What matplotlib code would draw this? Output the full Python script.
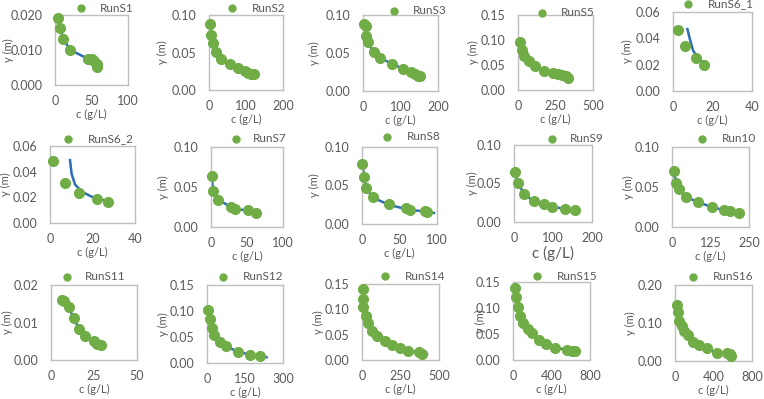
import matplotlib
matplotlib.use("Agg")
import matplotlib.pyplot as plt
from matplotlib.lines import Line2D
from matplotlib.ticker import FormatStrFormatter

plt.rcParams['font.family'] = ['Lato', 'DejaVu Sans']

GREEN = '#70AD47'
BLUE = '#2E6DB4'
GRAY = '#595959'
FRAME = '#BFBFBF'

W, H = 764, 399

# ---- data: c (g/L) vs y (m) ----
s1_c = [4.5, 7, 11, 21, 45, 50, 53, 57, 58]
s1_y = [0.0192, 0.0163, 0.0132, 0.0100, 0.0075, 0.0073, 0.0068, 0.0059, 0.0052]

s2_c = [2, 6, 11, 18, 33, 56, 78, 96, 105, 114, 121]
s2_y = [0.088, 0.073, 0.063, 0.051, 0.042, 0.035, 0.029, 0.025, 0.023, 0.022, 0.021]

s3_c = [2, 7, 9, 13, 28, 46, 78, 107, 129, 138, 147, 153]
s3_y = [0.088, 0.086, 0.072, 0.064, 0.051, 0.043, 0.036, 0.029, 0.025, 0.023, 0.020, 0.020]

s5_c = [11, 26, 37, 70, 115, 170, 231, 269, 295, 317, 335]
s5_y = [0.097, 0.080, 0.069, 0.058, 0.049, 0.039, 0.035, 0.032, 0.030, 0.028, 0.025]

s61_c = [2.6, 6.3, 11.6, 15.8]
s61_y = [0.0465, 0.034, 0.025, 0.020]
s61_fit_c = [7.3, 8.5, 10.2, 12.8, 15.8]
s61_fit_y = [0.047, 0.0396, 0.0306, 0.025, 0.021]

s62_c = [1.3, 7, 13.6, 22, 27.5]
s62_y = [0.0487, 0.031, 0.023, 0.019, 0.0166]
s62_fit_c = [9.4, 10.2, 11.8, 14.9, 19.6, 23.5, 27.5]
s62_fit_y = [0.049, 0.038, 0.030, 0.0245, 0.0205, 0.0184, 0.017]

s7_c = [1, 3, 10, 28, 34, 52, 63]
s7_y = [0.064, 0.045, 0.034, 0.025, 0.022, 0.021, 0.018]

s8_c = [0, 2, 5, 15, 36, 59, 64, 84, 87]
s8_y = [0.078, 0.061, 0.047, 0.035, 0.026, 0.021, 0.018, 0.017, 0.016]
s8_fit_c = [1, 3, 6, 15, 36, 60, 85, 96]
s8_fit_y = [0.075, 0.058, 0.046, 0.034, 0.025, 0.019, 0.016, 0.0143]

s9_c = [3, 10, 25, 50, 76, 97, 130, 156]
s9_y = [0.065, 0.051, 0.037, 0.027, 0.023, 0.020, 0.017, 0.0154]

s10_c = [5, 14, 24, 45, 84, 129, 169, 189, 219]
s10_y = [0.070, 0.055, 0.047, 0.038, 0.031, 0.025, 0.021, 0.020, 0.018]

s11_c = [6.4, 7.5, 10.3, 13.2, 16.5, 20, 24.8, 26.7, 29.3]
s11_y = [0.0160, 0.0158, 0.0141, 0.0111, 0.0082, 0.0064, 0.0052, 0.0042, 0.0040]

s12_c = [4, 10, 20, 29, 50, 76, 121, 170, 209]
s12_y = [0.102, 0.084, 0.067, 0.054, 0.040, 0.032, 0.022, 0.016, 0.014]
s12_fit_c = [4, 10, 20, 29, 50, 76, 121, 170, 209, 235]
s12_fit_y = [0.102, 0.084, 0.067, 0.054, 0.040, 0.032, 0.022, 0.016, 0.013, 0.011]

s14_c = [4, 4, 8, 26, 41, 63, 95, 150, 193, 247, 300, 370, 390]
s14_y = [0.140, 0.121, 0.105, 0.087, 0.073, 0.057, 0.047, 0.0375, 0.030, 0.0237, 0.018, 0.015, 0.0125]
s14_fit_c = [4, 8, 26, 41, 63, 95, 150, 193, 247, 300, 370, 422]
s14_fit_y = [0.140, 0.105, 0.087, 0.073, 0.057, 0.047, 0.0375, 0.030, 0.0237, 0.018, 0.015, 0.012]

s15_c = [24, 35, 52, 70, 104, 157, 200, 270, 348, 435, 563, 609, 643]
s15_y = [0.139, 0.121, 0.101, 0.085, 0.071, 0.059, 0.051, 0.038, 0.030, 0.023, 0.020, 0.017, 0.017]

s16_c = [17, 28, 42, 70, 97, 139, 191, 254, 337, 435, 539, 574, 581]
s16_y = [0.147, 0.128, 0.106, 0.0925, 0.079, 0.068, 0.051, 0.042, 0.033, 0.022, 0.020, 0.018, 0.013]

runs = [
    ('RunS1', s1_c, s1_y, None, None, [0, 50, 100], [0, 0.01, 0.02], '%.3f'),
    ('RunS2', s2_c, s2_y, None, None, [0, 100, 200], [0, 0.05, 0.10], '%.2f'),
    ('RunS3', s3_c, s3_y, None, None, [0, 100, 200], [0, 0.05, 0.10], '%.2f'),
    ('RunS5', s5_c, s5_y, None, None, [0, 250, 500], [0, 0.05, 0.10, 0.15], '%.2f'),
    ('RunS6_1', s61_c, s61_y, s61_fit_c, s61_fit_y, [0, 20, 40], [0, 0.02, 0.04, 0.06], '%.2f'),
    ('RunS6_2', s62_c, s62_y, s62_fit_c, s62_fit_y, [0, 20, 40], [0, 0.02, 0.04, 0.06], '%.2f'),
    ('RunS7', s7_c, s7_y, None, None, [0, 50, 100], [0, 0.05, 0.10], '%.2f'),
    ('RunS8', s8_c, s8_y, s8_fit_c, s8_fit_y, [0, 50, 100], [0, 0.05, 0.10], '%.2f'),
    ('RunS9', s9_c, s9_y, None, None, [0, 100, 200], [0, 0.05, 0.10], '%.2f'),
    ('Run10', s10_c, s10_y, None, None, [0, 125, 250], [0, 0.05, 0.10], '%.2f'),
    ('RunS11', s11_c, s11_y, None, None, [0, 25, 50], [0, 0.01, 0.02], '%.2f'),
    ('RunS12', s12_c, s12_y, s12_fit_c, s12_fit_y, [0, 150, 300], [0, 0.05, 0.10, 0.15], '%.2f'),
    ('RunS14', s14_c, s14_y, s14_fit_c, s14_fit_y, [0, 250, 500], [0, 0.05, 0.10, 0.15], '%.2f'),
    ('RunS15', s15_c, s15_y, None, None, [0, 400, 800], [0, 0.05, 0.10, 0.15], '%.2f'),
    ('RunS16', s16_c, s16_y, None, None, [0, 400, 800], [0, 0.10, 0.20], '%.2f'),
]

# plot boxes in pixels (left, top, right, bottom)
boxes = [
    (55, 15, 128, 85), (209, 15, 283, 90), (363, 15, 438, 91), (518, 15, 593, 90), (673, 12, 752, 91),
    (50, 146, 135, 223), (211, 147, 283, 227), (362, 147, 437, 224), (514, 145, 592, 222), (672, 147, 749, 227),
    (51, 285, 137, 360), (207, 285, 283, 363), (362, 284, 439, 360), (513, 282, 590, 360), (675, 285, 752, 361),
]
# legend marker x, text x, y (pixels)
legends = [
    (81, 100, 8), (232, 252, 8), (394, 413, 11), (542, 561, 13), (688, 708, 4),
    (68, 88, 139), (236, 253, 139), (387, 407, 137), (552, 570, 139), (702, 722, 139),
    (67, 85, 277), (223, 243, 277), (385, 405, 276), (537, 557, 276), (693, 713, 277),
]
ylab_off = [47, 47, 49, 45, 46, 45, 48, 48, 42, 44, 44, 44, 44, 33, 45]

fig = plt.figure(figsize=(W / 100, H / 100), dpi=100)


def fx(px):
    return px / W


def fy(py):
    return 1 - py / H


for i, (name, c, y, fc, fyv, xt, yt, fmt) in enumerate(runs):
    L, T, R, B = boxes[i]
    ax = fig.add_axes([fx(L), fy(B), (R - L) / W, (B - T) / H])
    if fc is None:
        fc, fyv = c, y
    ax.plot(fc, fyv, color=BLUE, lw=1.8, zorder=2)
    ax.plot(c, y, 'o', color=GREEN, ms=7, mec=GREEN, zorder=3, clip_on=False)
    ax.set_xlim(xt[0], xt[-1])
    ax.set_ylim(yt[0], yt[-1])
    ax.set_xticks(xt)
    ax.set_yticks(yt)
    ax.yaxis.set_major_formatter(FormatStrFormatter(fmt))
    ax.tick_params(length=0, labelsize=9, colors=GRAY)
    ax.tick_params(axis='x', pad=7)
    ax.tick_params(axis='y', pad=9)
    for sp in ax.spines.values():
        sp.set_color(FRAME)
        sp.set_linewidth(1)

    # axis titles
    fig.text(fx(L - ylab_off[i]), fy((T + B) / 2), 'y (m)', rotation=90,
             ha='center', va='center', fontsize=8, color=GRAY)
    if name == 'RunS9':
        fig.text(fx((L + R) / 2), fy(B + 31), 'c (g/L)', ha='center', va='center',
                 fontsize=11, color=GRAY)
    else:
        fig.text(fx((L + R) / 2), fy(B + 29), 'c (g/L)', ha='center', va='center',
                 fontsize=8, color=GRAY)

    # legend
    mx, tx, ly = legends[i]
    fig.add_artist(Line2D([fx(mx)], [fy(ly)], marker='o', color=GREEN, ms=5,
                          transform=fig.transFigure))
    fig.text(fx(tx), fy(ly), name, ha='left', va='center', fontsize=8.5, color=GRAY)

fig.savefig('out.png', dpi=100)
